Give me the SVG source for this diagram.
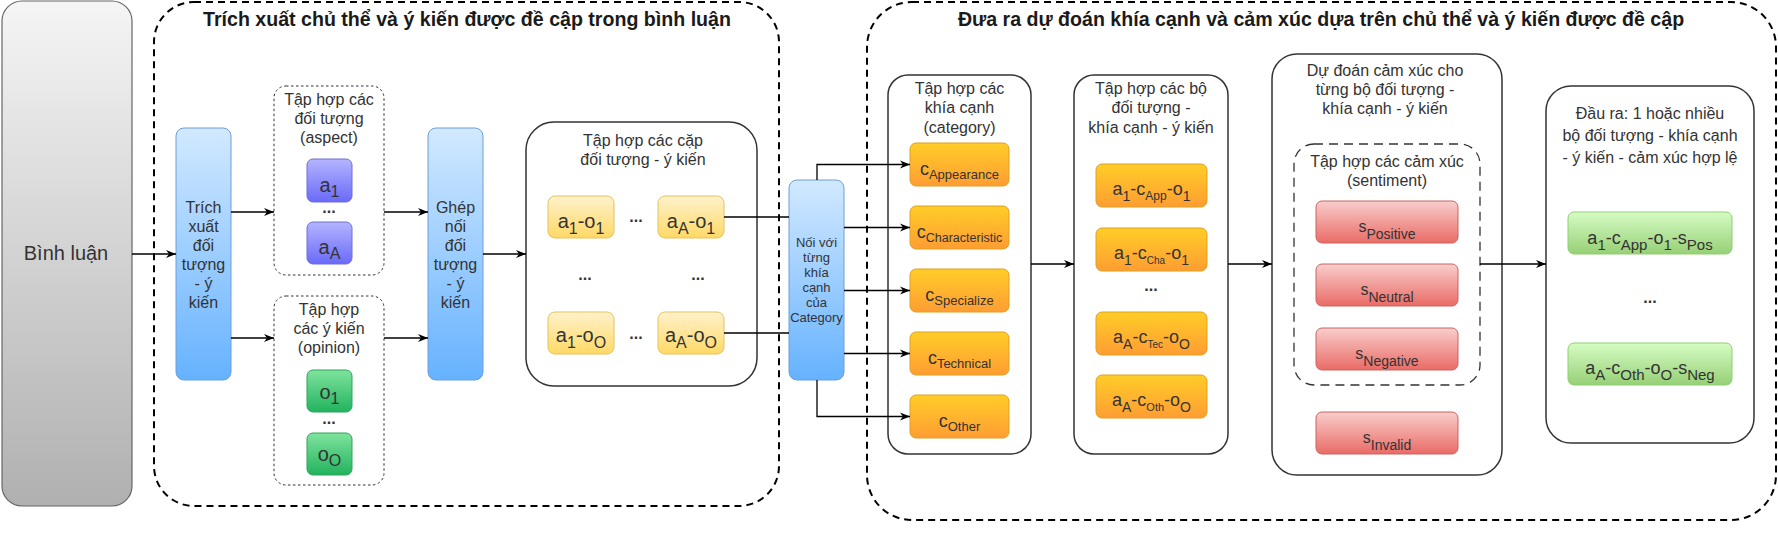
<svg xmlns="http://www.w3.org/2000/svg" width="1778" height="545" viewBox="0 0 1778 545">
<style>
text{font-family:"Liberation Sans",Arial,sans-serif;fill:#333;text-anchor:middle}
.title{font-size:19.6px;font-weight:bold;fill:#1a1a1a}
.t16{font-size:16px}
.t13{font-size:13px}
.t20{font-size:20px}
.dots{font-size:16px;font-weight:bold;fill:#333}
.grp{fill:none;stroke:#000;stroke-width:2;stroke-dasharray:7 5}
.dot{fill:#fff;stroke:#333;stroke-width:1;stroke-dasharray:2.5 2.5}
.dash{fill:none;stroke:#333;stroke-width:1.3;stroke-dasharray:9 6}
.cont{fill:#fff;stroke:#333;stroke-width:1.5}
.grey{fill:url(#gGrey);stroke:#666;stroke-width:1.2}
.blue{fill:url(#gBlue);stroke:#6c9ed8;stroke-width:1}
.purple{fill:url(#gPurple);stroke:#6f6fd8;stroke-width:1}
.green{fill:url(#gGreen);stroke:#2ea35a;stroke-width:1}
.yellow{fill:url(#gYellow);stroke:#e6c35a;stroke-width:1}
.orange{fill:url(#gOrange);stroke:#e0a020;stroke-width:1}
.red{fill:url(#gRed);stroke:#c86460;stroke-width:1}
.lgreen{fill:url(#gLGreen);stroke:#8fcf70;stroke-width:1}
.conn path{fill:none;stroke:#000;stroke-width:1.3}
.conn path.a{marker-end:url(#arr)}
</style>
<defs>
<linearGradient id="gGrey" x1="0" y1="0" x2="0" y2="1"><stop offset="0" stop-color="#f5f5f5"/><stop offset="1" stop-color="#b0b0b0"/></linearGradient>
<linearGradient id="gBlue" x1="0" y1="0" x2="0" y2="1"><stop offset="0" stop-color="#d2e9ff"/><stop offset="1" stop-color="#66b2ff"/></linearGradient>
<linearGradient id="gPurple" x1="0" y1="0" x2="0" y2="1"><stop offset="0" stop-color="#b4b4ff"/><stop offset="1" stop-color="#6a6af8"/></linearGradient>
<linearGradient id="gGreen" x1="0" y1="0" x2="0" y2="1"><stop offset="0" stop-color="#7fe39e"/><stop offset="1" stop-color="#22b35e"/></linearGradient>
<linearGradient id="gYellow" x1="0" y1="0" x2="0" y2="1"><stop offset="0" stop-color="#fff2cc"/><stop offset="1" stop-color="#ffd966"/></linearGradient>
<linearGradient id="gOrange" x1="0" y1="0" x2="0" y2="1"><stop offset="0" stop-color="#ffcd28"/><stop offset="1" stop-color="#ff9d33"/></linearGradient>
<linearGradient id="gRed" x1="0" y1="0" x2="0" y2="1"><stop offset="0" stop-color="#f8cecc"/><stop offset="1" stop-color="#ea6b66"/></linearGradient>
<linearGradient id="gLGreen" x1="0" y1="0" x2="0" y2="1"><stop offset="0" stop-color="#d5fcc4"/><stop offset="1" stop-color="#97d077"/></linearGradient>
<marker id="arr" viewBox="0 0 10 10" refX="10" refY="5" markerWidth="10" markerHeight="10" markerUnits="userSpaceOnUse" orient="auto"><path d="M0,1 L10,5 L0,9 L3,5 z" fill="#000"/></marker>
</defs>

<g id="group-left">
<rect class="grp" x="154" y="2" width="625" height="504" rx="40"/>
<text class="title" x="467" y="26">Trích xuất chủ thể và ý kiến được đề cập trong bình luận</text>
</g>
<g id="group-right">
<rect class="grp" x="867" y="2" width="909" height="518" rx="45"/>
<text class="title" x="1321" y="26">Đưa ra dự đoán khía cạnh và cảm xúc dựa trên chủ thể và ý kiến được đề cập</text>
</g>

<g id="binh-luan">
<rect class="grey" x="2" y="1" width="130" height="505" rx="20"/>
<text class="t20" x="66" y="260">Bình luận</text>
</g>

<g id="trich-xuat">
<rect class="blue" x="176" y="128" width="55" height="252" rx="8"/>
<text class="t16" x="203.5" y="213">Trích</text>
<text class="t16" x="203.5" y="232">xuất</text>
<text class="t16" x="203.5" y="251">đối</text>
<text class="t16" x="203.5" y="270">tượng</text>
<text class="t16" x="203.5" y="289">- ý</text>
<text class="t16" x="203.5" y="308">kiến</text>
</g>

<g id="aspect-set">
<rect class="dot" x="274" y="86" width="110" height="189" rx="12"/>
<text class="t16" x="329" y="105">Tập hợp các</text>
<text class="t16" x="329" y="124">đối tượng</text>
<text class="t16" x="329" y="143">(aspect)</text>
</g>
<g id="a1">
<rect class="purple" x="307" y="159" width="45" height="43" rx="6"/>
<text class="t20" x="329.5" y="192">a<tspan font-size="16" dy="5">1</tspan></text>
</g>
<text class="dots" x="329" y="213">...</text>
<g id="aA">
<rect class="purple" x="307" y="222" width="45" height="42" rx="6"/>
<text class="t20" x="329.5" y="254">a<tspan font-size="16" dy="5">A</tspan></text>
</g>

<g id="opinion-set">
<rect class="dot" x="274" y="296" width="110" height="189" rx="12"/>
<text class="t16" x="329" y="315">Tập hợp</text>
<text class="t16" x="329" y="334">các ý kiến</text>
<text class="t16" x="329" y="353">(opinion)</text>
</g>
<g id="o1">
<rect class="green" x="307" y="370" width="45" height="42" rx="6"/>
<text class="t20" x="329.5" y="399">o<tspan font-size="16" dy="5">1</tspan></text>
</g>
<text class="dots" x="329" y="424">...</text>
<g id="oO">
<rect class="green" x="307" y="433" width="45" height="42" rx="6"/>
<text class="t20" x="329.5" y="461">o<tspan font-size="16" dy="5">O</tspan></text>
</g>

<g id="ghep-noi">
<rect class="blue" x="428" y="128" width="55" height="252" rx="8"/>
<text class="t16" x="455.5" y="213">Ghép</text>
<text class="t16" x="455.5" y="232">nối</text>
<text class="t16" x="455.5" y="251">đối</text>
<text class="t16" x="455.5" y="270">tượng</text>
<text class="t16" x="455.5" y="289">- ý</text>
<text class="t16" x="455.5" y="308">kiến</text>
</g>

<g id="pairs-set">
<rect class="cont" x="526" y="122" width="231" height="264" rx="28"/>
<text class="t16" x="643" y="146">Tập hợp các cặp</text>
<text class="t16" x="643" y="165">đối tượng - ý kiến</text>
</g>
<g id="a1-o1">
<rect class="yellow" x="548" y="196" width="66" height="42" rx="7"/>
<text class="t20" x="581" y="228">a<tspan font-size="16" dy="6">1</tspan><tspan dy="-6">-o</tspan><tspan font-size="16" dy="6">1</tspan></text>
</g>
<g id="aA-o1">
<rect class="yellow" x="658" y="196" width="66" height="42" rx="7"/>
<text class="t20" x="691" y="228">a<tspan font-size="16" dy="6">A</tspan><tspan dy="-6">-o</tspan><tspan font-size="16" dy="6">1</tspan></text>
</g>
<g id="a1-oO">
<rect class="yellow" x="548" y="312" width="66" height="42" rx="7"/>
<text class="t20" x="581" y="342">a<tspan font-size="16" dy="6">1</tspan><tspan dy="-6">-o</tspan><tspan font-size="16" dy="6">O</tspan></text>
</g>
<g id="aA-oO">
<rect class="yellow" x="658" y="312" width="66" height="42" rx="7"/>
<text class="t20" x="691" y="342">a<tspan font-size="16" dy="6">A</tspan><tspan dy="-6">-o</tspan><tspan font-size="16" dy="6">O</tspan></text>
</g>
<text class="dots" x="636" y="222">...</text>
<text class="dots" x="585" y="280">...</text>
<text class="dots" x="698" y="280">...</text>
<text class="dots" x="636" y="339">...</text>

<g id="noi-voi">
<rect class="blue" x="789" y="180" width="55" height="200" rx="8"/>
<text class="t13" x="816.5" y="246.5">Nối với</text>
<text class="t13" x="816.5" y="261.5">từng</text>
<text class="t13" x="816.5" y="276.5">khía</text>
<text class="t13" x="816.5" y="291.5">cạnh</text>
<text class="t13" x="816.5" y="306.5">của</text>
<text class="t13" x="816.5" y="321.5">Category</text>
</g>

<g id="category-set">
<rect class="cont" x="888" y="75" width="143" height="379" rx="20"/>
<text class="t16" x="959.5" y="94">Tập hợp các</text>
<text class="t16" x="959.5" y="113">khía cạnh</text>
<text class="t16" x="959.5" y="133">(category)</text>
</g>
<g id="c-appearance">
<rect class="orange" x="910" y="143" width="99" height="43" rx="6"/>
<text font-size="18" x="959.5" y="175">c<tspan font-size="13" dy="4">Appearance</tspan></text>
</g>
<g id="c-characteristic">
<rect class="orange" x="910" y="206" width="99" height="43" rx="6"/>
<text font-size="18" x="959.5" y="238">c<tspan font-size="12.5" dy="4">Characteristic</tspan></text>
</g>
<g id="c-specialize">
<rect class="orange" x="910" y="269" width="99" height="43" rx="6"/>
<text font-size="18" x="959.5" y="301">c<tspan font-size="13" dy="4">Specialize</tspan></text>
</g>
<g id="c-technical">
<rect class="orange" x="910" y="332" width="99" height="43" rx="6"/>
<text font-size="18" x="959.5" y="364">c<tspan font-size="13" dy="4">Technical</tspan></text>
</g>
<g id="c-other">
<rect class="orange" x="910" y="395" width="99" height="43" rx="6"/>
<text font-size="18" x="959.5" y="427">c<tspan font-size="13" dy="4">Other</tspan></text>
</g>

<g id="tuple-set">
<rect class="cont" x="1074" y="75" width="154" height="379" rx="20"/>
<text class="t16" x="1151" y="94">Tập hợp các bộ</text>
<text class="t16" x="1151" y="113">đối tượng -</text>
<text class="t16" x="1151" y="133">khía cạnh - ý kiến</text>
</g>
<g id="t1">
<rect class="orange" x="1096" y="164" width="111" height="43" rx="6"/>
<text font-size="18" x="1151.5" y="195">a<tspan font-size="14" dy="6">1</tspan><tspan dy="-6">-c</tspan><tspan font-size="12" dy="5">App</tspan><tspan dy="-5">-o</tspan><tspan font-size="14" dy="6">1</tspan></text>
</g>
<g id="t2">
<rect class="orange" x="1096" y="228" width="111" height="43" rx="6"/>
<text font-size="18" x="1151.5" y="259">a<tspan font-size="14" dy="6">1</tspan><tspan dy="-6">-c</tspan><tspan font-size="10" dy="5">Cha</tspan><tspan dy="-5">-o</tspan><tspan font-size="14" dy="6">1</tspan></text>
</g>
<text class="dots" x="1151" y="291">...</text>
<g id="t3">
<rect class="orange" x="1096" y="312" width="111" height="43" rx="6"/>
<text font-size="18" x="1151.5" y="343">a<tspan font-size="14" dy="6">A</tspan><tspan dy="-6">-c</tspan><tspan font-size="10" dy="5">Tec</tspan><tspan dy="-5">-o</tspan><tspan font-size="14" dy="6">O</tspan></text>
</g>
<g id="t4">
<rect class="orange" x="1096" y="375" width="111" height="43" rx="6"/>
<text font-size="18" x="1151.5" y="406">a<tspan font-size="14" dy="6">A</tspan><tspan dy="-6">-c</tspan><tspan font-size="11" dy="5">Oth</tspan><tspan dy="-5">-o</tspan><tspan font-size="14" dy="6">O</tspan></text>
</g>

<g id="sentiment-predict">
<rect class="cont" x="1272" y="54" width="230" height="421" rx="25"/>
<text class="t16" x="1385" y="76">Dự đoán cảm xúc cho</text>
<text class="t16" x="1385" y="95">từng bộ đối tượng -</text>
<text class="t16" x="1385" y="114">khía cạnh - ý kiến</text>
</g>
<g id="sentiment-set">
<rect class="dash" x="1294" y="144" width="186" height="241" rx="20"/>
<text class="t16" x="1387" y="167">Tập hợp các cảm xúc</text>
<text class="t16" x="1387" y="186">(sentiment)</text>
</g>
<g id="s-positive">
<rect class="red" x="1316" y="201" width="142" height="42" rx="6"/>
<text font-size="16" x="1387" y="232">s<tspan font-size="14" dy="7">Positive</tspan></text>
</g>
<g id="s-neutral">
<rect class="red" x="1316" y="264" width="142" height="42" rx="6"/>
<text font-size="16" x="1387" y="295">s<tspan font-size="14" dy="7">Neutral</tspan></text>
</g>
<g id="s-negative">
<rect class="red" x="1316" y="328" width="142" height="42" rx="6"/>
<text font-size="16" x="1387" y="359">s<tspan font-size="14" dy="7">Negative</tspan></text>
</g>
<g id="s-invalid">
<rect class="red" x="1316" y="412" width="142" height="42" rx="6"/>
<text font-size="16" x="1387" y="443">s<tspan font-size="14" dy="7">Invalid</tspan></text>
</g>

<g id="output">
<rect class="cont" x="1546" y="86" width="208" height="357" rx="25"/>
<text class="t16" x="1650" y="119">Đầu ra: 1 hoặc nhiều</text>
<text class="t16" x="1650" y="141">bộ đối tượng - khía cạnh</text>
<text class="t16" x="1650" y="163">- ý kiến - cảm xúc hợp lệ</text>
</g>
<g id="out1">
<rect class="lgreen" x="1568" y="212" width="164" height="42" rx="6"/>
<text font-size="18" x="1650" y="244">a<tspan font-size="15" dy="6">1</tspan><tspan dy="-6">-c</tspan><tspan font-size="15" dy="6">App</tspan><tspan dy="-6">-o</tspan><tspan font-size="15" dy="6">1</tspan><tspan dy="-6">-s</tspan><tspan font-size="15" dy="6">Pos</tspan></text>
</g>
<text class="dots" x="1650" y="303">...</text>
<g id="out2">
<rect class="lgreen" x="1568" y="343" width="164" height="42" rx="6"/>
<text font-size="18" x="1650" y="374">a<tspan font-size="15" dy="6">A</tspan><tspan dy="-6">-c</tspan><tspan font-size="15" dy="6">Oth</tspan><tspan dy="-6">-o</tspan><tspan font-size="15" dy="6">O</tspan><tspan dy="-6">-s</tspan><tspan font-size="15" dy="6">Neg</tspan></text>
</g>

<g id="connectors" class="conn">
<path class="a" d="M132,254 H176"/>
<path class="a" d="M231,212 H274"/>
<path class="a" d="M231,338 H274"/>
<path class="a" d="M384,212 H428"/>
<path class="a" d="M384,338 H428"/>
<path class="a" d="M483,254 H526"/>
<path d="M724,217 H789"/>
<path d="M724,333 H789"/>
<path class="a" d="M817,180 V164.5 H910"/>
<path class="a" d="M844,227.5 H910"/>
<path class="a" d="M844,290.5 H910"/>
<path class="a" d="M844,353.5 H910"/>
<path class="a" d="M817,380 V416.5 H910"/>
<path class="a" d="M1031,264 H1074"/>
<path class="a" d="M1228,264 H1272"/>
<path class="a" d="M1480,264 H1546"/>
</g>
</svg>
